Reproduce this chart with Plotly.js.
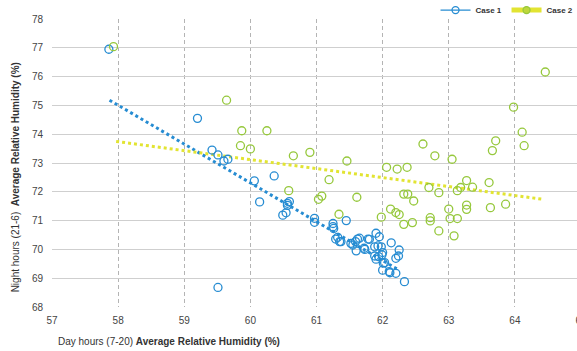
<!DOCTYPE html>
<html>
<head>
<meta charset="utf-8">
<script src="https://cdn.plot.ly/plotly-3.0.1.min.js"></script>
<style>
html, body { margin: 0; padding: 0; overflow: hidden; background: #fff; }
#chart { width: 581px; height: 351px; }
</style>
</head>
<body>
<div id="chart"></div>
<script>
// Case 1 (blue) points: day-hours RH (x) vs night-hours RH (y)
const case1X = [57.86, 59.20, 59.42, 59.51, 59.60, 59.66, 59.51, 60.06, 60.36, 60.14,
  60.56, 60.59, 60.56, 60.49, 60.54, 60.97, 60.97, 61.25, 61.25, 61.26,
  61.45, 61.29, 61.32, 61.35, 61.37, 61.52, 61.55, 61.59, 61.62, 61.60,
  61.72, 61.78, 61.65, 61.73, 61.80, 61.90, 61.95, 61.93, 61.88, 61.98,
  62.00, 61.88, 61.90, 61.94, 62.03, 62.00, 62.10, 62.13, 62.20, 62.20,
  62.24, 62.25, 62.33, 61.99, 62.01, 62.11];
const case1Y = [76.95, 74.55, 73.45, 73.28, 73.07, 73.13, 68.68, 72.38, 72.55, 71.65,
  71.60, 71.66, 71.53, 71.19, 71.27, 71.08, 70.94, 70.90, 70.79, 70.73,
  71.00, 70.36, 70.42, 70.27, 70.27, 70.21, 70.15, 70.27, 70.36, 69.95,
  70.04, 70.36, 70.39, 70.00, 70.35, 70.56, 70.44, 70.12, 70.09, 70.09,
  69.89, 69.77, 69.66, 69.75, 69.54, 69.28, 69.23, 70.23, 69.17, 69.69,
  69.77, 69.98, 68.88, 69.81, 69.52, 69.19];

// Case 2 (green) points
const case2X = [57.93, 59.64, 59.87, 60.25, 59.85, 60.00, 60.65, 60.90, 61.46, 61.19,
  60.58, 61.03, 61.08, 61.61, 61.34, 61.98, 62.06, 62.22, 62.37, 62.61,
  62.79, 63.05, 63.98, 64.46, 64.11, 63.71, 63.66, 64.14, 63.27, 63.36,
  63.18, 63.13, 63.61, 62.70, 62.85, 62.32, 62.38, 62.47, 63.27, 63.27,
  63.63, 63.86, 63.00, 62.12, 62.20, 62.25, 62.72, 62.72, 63.02, 63.13,
  62.32, 62.45, 62.85, 63.08];
const case2Y = [77.04, 75.18, 74.12, 74.12, 73.60, 73.49, 73.25, 73.37, 73.07, 72.42,
  72.04, 71.74, 71.85, 71.81, 71.22, 71.12, 72.85, 72.79, 72.85, 73.66,
  73.25, 73.13, 74.94, 76.16, 74.07, 73.77, 73.43, 73.60, 72.39, 72.16,
  72.15, 72.04, 72.32, 72.15, 71.97, 71.92, 71.92, 71.68, 71.54, 71.39,
  71.45, 71.57, 71.40, 71.40, 71.28, 71.21, 71.10, 70.99, 71.07, 71.07,
  70.87, 70.93, 70.64, 70.47];

// Linear trend lines (end points)
const trend1X = [57.87, 62.22];
const trend1Y = [75.18, 69.32];
const trend2X = [57.97, 64.42];
const trend2Y = [73.75, 71.74];

const xTicks = [57, 58, 59, 60, 61, 62, 63, 64, 65];
const yTicks = [68, 69, 70, 71, 72, 73, 74, 75, 76, 77, 78];

const seriesNames = ['Case 1', 'Case 2'];
const xTitleNormal = 'Day hours (7-20) ';
const xTitleBold = 'Average Relative Humidity (%)';
const yTitleNormal = 'Night hours (21-6)  ';
const yTitleBold = 'Average Relative Humidity (%)';

const BLUE = 'rgb(38,140,210)';
const GREEN = 'rgb(150,200,60)';
const YELLOW = 'rgb(226,228,50)';

const traces = [
  { x: trend1X, y: trend1Y, type: 'scatter', mode: 'lines', showlegend: false, hoverinfo: 'skip',
    line: { color: BLUE, width: 3, dash: '3px,3px' } },
  { x: trend2X, y: trend2Y, type: 'scatter', mode: 'lines', showlegend: false, hoverinfo: 'skip',
    line: { color: YELLOW, width: 3, dash: '3px,3px' } },
  { x: case1X, y: case1Y, type: 'scatter', mode: 'markers', showlegend: false,
    marker: { symbol: 'circle-open', size: 8, color: BLUE, line: { width: 1.3, color: BLUE } } },
  { x: case2X, y: case2Y, type: 'scatter', mode: 'markers', showlegend: false,
    marker: { symbol: 'circle-open', size: 8, color: GREEN, line: { width: 1.3, color: GREEN } } },
  // legend entries
  { x: [null], y: [null], type: 'scatter', mode: 'lines+markers', name: seriesNames[0],
    line: { color: BLUE, width: 1.3 },
    marker: { symbol: 'circle-open', size: 7, color: BLUE, line: { width: 1.3, color: BLUE } } },
  { x: [null], y: [null], type: 'scatter', mode: 'lines+markers', name: seriesNames[1],
    line: { color: YELLOW, width: 5 },
    marker: { symbol: 'circle', size: 7, color: 'rgb(190,215,60)', line: { width: 1.3, color: GREEN } } }
];

const layout = {
  width: 581, height: 351,
  margin: { l: 52, r: 0, t: 19, b: 44, autoexpand: false },
  paper_bgcolor: '#fff', plot_bgcolor: '#fff',
  font: { family: 'Liberation Sans, Arial, sans-serif', color: '#444' },
  showlegend: true,
  legend: {
    orientation: 'h', x: 0.725, xanchor: 'left', y: 1.031, yanchor: 'middle',
    font: { size: 8, color: '#333', weight: 'bold' }, bgcolor: 'rgba(0,0,0,0)',
    entrywidth: 26, entrywidthmode: 'pixels'
  },
  xaxis: {
    range: [57, 65], tickvals: xTicks, ticktext: xTicks.map(String),
    showgrid: true, gridcolor: '#b4b4b4', griddash: '4px,3px', gridwidth: 1,
    zeroline: false, showline: false, ticklabeloverflow: 'allow',
    ticks: 'outside', ticklen: 4, tickcolor: 'rgba(0,0,0,0)',
    tickfont: { size: 10, color: '#444' }
  },
  yaxis: {
    range: [68, 78], tickvals: yTicks, ticktext: yTicks.map(String),
    showgrid: true, gridcolor: '#cfcfcf', gridwidth: 1,
    zeroline: false, showline: false,
    ticks: 'outside', ticklen: 6, tickcolor: 'rgba(0,0,0,0)',
    tickfont: { size: 10, color: '#444' }
  },
  annotations: [
    { text: xTitleNormal + '<b>' + xTitleBold + '</b>', xref: 'paper', yref: 'paper',
      x: 0.008, xanchor: 'left', y: -0.12, yanchor: 'middle', showarrow: false,
      font: { size: 10, color: '#333' } },
    { text: yTitleNormal + '<b>' + yTitleBold + '</b>', xref: 'paper', yref: 'paper',
      x: -0.07, xanchor: 'center', y: 0.45, yanchor: 'middle', showarrow: false, textangle: -90,
      font: { size: 10, color: '#333' } }
  ]
};

Plotly.newPlot('chart', traces, layout, { displayModeBar: false, staticPlot: true });
</script>
</body>
</html>
